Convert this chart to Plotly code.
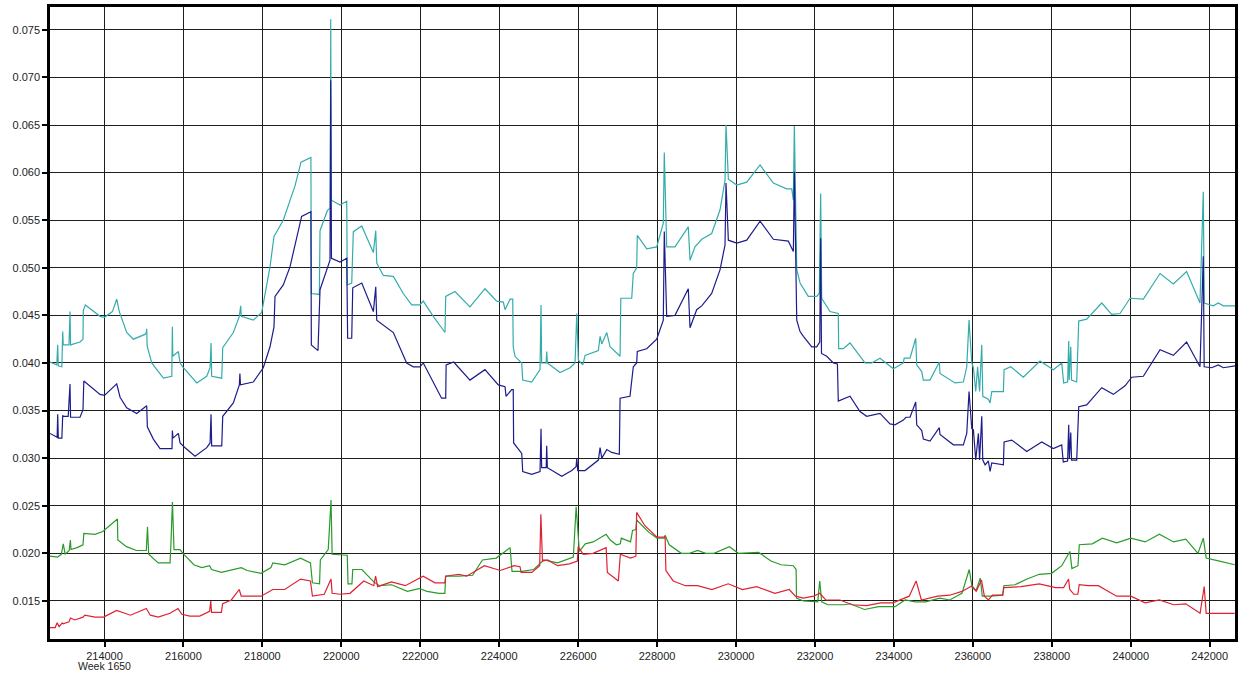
import plotly.graph_objects as go

# Seconds of GPS week 1650 and the four plotted quantities (x, value) per series.
teal_series = [
    (212619, .0401), (212790, .0398), (212814, .0419), (212830, .0397), (212920, .0396),
    (212941, .0433), (212955, .0419), (213100, .0419), (213126, .0454), (213140, .0419),
    (213379, .0422), (213455, .0425), (213463, .0455), (213514, .0461), (213886, .0449),
    (214000, .0448), (214200, .0454), (214309, .0467), (214375, .0454), (214562, .0432),
    (214730, .0425), (215026, .0430), (215060, .0432), (215069, .0436), (215080, .0418),
    (215196, .0400), (215491, .0384), (215660, .0386), (215705, .0386), (215719, .0438),
    (215730, .0407), (215871, .0412), (215914, .0400), (215982, .0396), (216337, .0379),
    (216590, .0386), (216674, .0395), (216699, .0421), (216715, .0386), (216970, .0384),
    (216995, .0416), (217264, .0432), (217416, .0449), (217451, .0460), (217465, .0449),
    (217769, .0445), (217982, .0453), (218193, .0501), (218294, .0533), (218529, .0550),
    (218826, .0586), (218978, .0611), (219229, .0616), (219240, .0473), (219443, .0472),
    (219460, .0539), (219645, .0560), (219720, .0563), (219731, .0761), (219745, .0571),
    (219967, .0566), (220137, .0570), (220150, .0482), (220263, .0484), (220304, .0538),
    (220517, .0544), (220811, .0516), (220872, .0539), (220897, .0505), (221064, .0492),
    (221317, .0491), (221569, .0473), (221782, .0461), (221992, .0461), (222076, .0465),
    (222329, .0449), (222626, .0432), (222644, .0470), (222879, .0475), (223259, .0459),
    (223639, .0478), (223937, .0465), (224104, .0464), (224147, .0456), (224274, .0467),
    (224342, .0467), (224355, .0417), (224400, .0407), (224570, .0400), (224595, .0382),
    (224823, .0380), (225034, .0393), (225059, .0461), (225075, .0400), (225190, .0400),
    (225203, .0412), (225220, .0400), (225541, .0390), (225795, .0395), (225921, .0400),
    (225965, .0452), (226005, .0403), (226117, .0398), (226175, .0408), (226512, .0413),
    (226555, .0428), (226598, .0420), (226725, .0432), (226808, .0417), (227062, .0407),
    (227080, .0468), (227357, .0468), (227397, .0494), (227483, .0500), (227498, .0534),
    (227737, .0520), (227990, .0522), (228157, .0547), (228182, .0621), (228243, .0522),
    (228453, .0522), (228790, .0543), (228834, .0508), (228960, .0522), (229130, .0530),
    (229383, .0536), (229595, .0561), (229721, .0592), (229746, .0650), (229805, .0593),
    (230018, .0587), (230271, .0590), (230608, .0608), (230945, .0589), (231284, .0583),
    (231411, .0583), (231452, .0571), (231477, .0649), (231538, .0498), (231622, .0484),
    (231830, .0470), (232043, .0470), (232109, .0473), (232144, .0578), (232170, .0468),
    (232380, .0454), (232590, .0452), (232600, .0415), (232717, .0415), (232887, .0421),
    (233267, .0400), (233436, .0400), (233647, .0405), (233985, .0394), (234238, .0400),
    (234260, .0405), (234408, .0405), (234552, .0426), (234578, .0398), (234704, .0391),
    (234745, .0382), (234914, .0382), (235150, .0401), (235167, .0389), (235547, .0379),
    (235759, .0380), (235845, .0396), (235903, .0445), (235972, .0400), (236013, .0395),
    (236073, .0370), (236120, .0396), (236170, .0370), (236225, .0419), (236251, .0365),
    (236393, .0362), (236436, .0358), (236479, .0370), (236773, .0370), (236791, .0393),
    (236960, .0396), (237278, .0385), (237701, .0402), (238038, .0393), (238251, .0400),
    (238300, .0379), (238400, .0380), (238428, .0423), (238440, .0382), (238480, .0417),
    (238500, .0382), (238631, .0380), (238682, .0444), (238884, .0446), (239264, .0463),
    (239517, .0451), (239727, .0452), (239982, .0468), (240319, .0467), (240742, .0494),
    (241079, .0483), (241415, .0496), (241754, .0463), (241838, .0580), (241860, .0463),
    (242091, .0460), (242218, .0463), (242345, .0460), (242641, .0460),
]

navy_series = [
    (212619, .0326), (212746, .0323), (212800, .0322), (212814, .0346), (212830, .0321),
    (212920, .0321), (212941, .0345), (212955, .0344), (213080, .0344), (213126, .0378),
    (213140, .0343), (213379, .0343), (213455, .0351), (213476, .0381), (213886, .0367),
    (214000, .0366), (214309, .0378), (214394, .0364), (214562, .0353), (214816, .0347),
    (215069, .0355), (215085, .0333), (215237, .0320), (215406, .0310), (215660, .0310),
    (215710, .0310), (215719, .0329), (215735, .0321), (215871, .0326), (215914, .0316),
    (216041, .0311), (216294, .0302), (216590, .0311), (216674, .0316), (216699, .0346),
    (216715, .0313), (216970, .0313), (216995, .0344), (217264, .0358), (217416, .0377),
    (217430, .0389), (217445, .0377), (217769, .0380), (218023, .0395), (218193, .0417),
    (218294, .0438), (218319, .0470), (218529, .0482), (218699, .0501), (218994, .0554),
    (219229, .0559), (219240, .0419), (219409, .0413), (219460, .0477), (219713, .0508),
    (219731, .0697), (219750, .0510), (219967, .0506), (220137, .0510), (220160, .0426),
    (220263, .0426), (220289, .0479), (220517, .0484), (220811, .0454), (220872, .0480),
    (220897, .0445), (221317, .0432), (221655, .0400), (221824, .0396), (221992, .0396),
    (222076, .0400), (222329, .0379), (222540, .0363), (222644, .0363), (222655, .0398),
    (222846, .0401), (223259, .0382), (223639, .0393), (223977, .0377), (224147, .0375),
    (224172, .0365), (224316, .0372), (224355, .0372), (224365, .0316), (224400, .0314),
    (224570, .0305), (224595, .0286), (224823, .0283), (225034, .0286), (225059, .0331),
    (225075, .0290), (225190, .0290), (225203, .0313), (225220, .0290), (225585, .0281),
    (225838, .0287), (225947, .0291), (225965, .0300), (225990, .0287), (226175, .0287),
    (226512, .0298), (226555, .0311), (226598, .0300), (226725, .0309), (226850, .0306),
    (227043, .0304), (227062, .0363), (227313, .0365), (227397, .0396), (227483, .0400),
    (227498, .0412), (227737, .0415), (227990, .0425), (228157, .0445), (228182, .0538),
    (228243, .0449), (228453, .0450), (228790, .0478), (228834, .0437), (229003, .0456),
    (229130, .0460), (229383, .0473), (229595, .0498), (229721, .0524), (229746, .0589),
    (229805, .0529), (230018, .0526), (230271, .0529), (230608, .0549), (230945, .0530),
    (231325, .0528), (231452, .0517), (231477, .0601), (231538, .0445), (231622, .0433),
    (231706, .0428), (231918, .0417), (232043, .0417), (232120, .0422), (232144, .0531),
    (232165, .0410), (232297, .0407), (232466, .0400), (232568, .0399), (232590, .0360),
    (232887, .0365), (233140, .0349), (233309, .0344), (233647, .0347), (233900, .0336),
    (234027, .0335), (234238, .0340), (234305, .0343), (234408, .0343), (234552, .0359),
    (234578, .0335), (234704, .0329), (234745, .0320), (234914, .0318), (235150, .0332),
    (235167, .0325), (235506, .0314), (235759, .0314), (235845, .0326), (235903, .0370),
    (235972, .0331), (236013, .0330), (236073, .0298), (236140, .0326), (236170, .0298),
    (236225, .0344), (236251, .0298), (236310, .0293), (236393, .0297), (236436, .0286),
    (236479, .0295), (236773, .0293), (236791, .0317), (236985, .0319), (237365, .0307),
    (237744, .0317), (238038, .0310), (238251, .0314), (238290, .0296), (238400, .0297),
    (238428, .0335), (238445, .0300), (238480, .0327), (238500, .0298), (238631, .0298),
    (238682, .0354), (238884, .0356), (239264, .0374), (239559, .0367), (239856, .0376),
    (240025, .0385), (240319, .0386), (240742, .0414), (241079, .0408), (241415, .0422),
    (241754, .0396), (241838, .0512), (241860, .0396), (242051, .0395), (242218, .0398),
    (242345, .0395), (242641, .0397),
]

green_series = [
    (212619, .0197), (212809, .0196), (212905, .0199), (212956, .0210), (213004, .0199),
    (213105, .0203), (213136, .0214), (213150, .0204), (213305, .0206), (213455, .0209),
    (213476, .0221), (213757, .0220), (213957, .0223), (214327, .0236), (214337, .0214),
    (214557, .0207), (214808, .0203), (215059, .0203), (215089, .0228), (215119, .0199),
    (215360, .0190), (215660, .0190), (215680, .0207), (215721, .0254), (215761, .0204),
    (215910, .0204), (216012, .0199), (216263, .0188), (216463, .0185), (216663, .0187),
    (216711, .0183), (216962, .0180), (217464, .0185), (217613, .0182), (217966, .0179),
    (218217, .0185), (218265, .0190), (218566, .0188), (218967, .0195), (219217, .0190),
    (219268, .0169), (219448, .0168), (219468, .0193), (219668, .0204), (219739, .0256),
    (219767, .0199), (220150, .0198), (220170, .0168), (220269, .0168), (220289, .0183),
    (220520, .0183), (220821, .0170), (220970, .0166), (221272, .0167), (221672, .0160),
    (221971, .0163), (222172, .0160), (222473, .0158), (222623, .0158), (222643, .0176),
    (222975, .0176), (223325, .0177), (223575, .0193), (223924, .0195), (224276, .0206),
    (224324, .0181), (224575, .0181), (224877, .0183), (225128, .0193), (225478, .0190),
    (225878, .0196), (225949, .0249), (226030, .0202), (226180, .0210), (226380, .0212),
    (226709, .0220), (226813, .0214), (226968, .0209), (227069, .0210), (227092, .0216),
    (227327, .0212), (227378, .0224), (227462, .0225), (227482, .0235), (227792, .0222),
    (227997, .0216), (228182, .0216), (228203, .0219), (228306, .0209), (228615, .0200),
    (228821, .0200), (229026, .0203), (229234, .0200), (229439, .0200), (229832, .0207),
    (230058, .0200), (230575, .0201), (230884, .0192), (231140, .0188), (231449, .0187),
    (231522, .0183), (231532, .0153), (231707, .0150), (232069, .0149), (232120, .0171),
    (232170, .0149), (232325, .0146), (232738, .0146), (232892, .0147), (233252, .0141),
    (233614, .0144), (234027, .0144), (234283, .0151), (234541, .0149), (234800, .0149),
    (235160, .0153), (235414, .0151), (235723, .0158), (235908, .0183), (235982, .0164),
    (236083, .0161), (236187, .0174), (236238, .0155), (236446, .0155), (236755, .0156),
    (236785, .0166), (237064, .0167), (237373, .0173), (237682, .0178), (237995, .0179),
    (238253, .0187), (238458, .0202), (238509, .0184), (238663, .0187), (238696, .0209),
    (239025, .0210), (239281, .0216), (239643, .0211), (240003, .0216), (240366, .0212),
    (240725, .0220), (241085, .0212), (241394, .0215), (241703, .0200), (241838, .0216),
    (241911, .0195), (242220, .0192), (242633, .0188),
]

red_series = [
    (212619, .0122), (212751, .0122), (212800, .0127), (212850, .0123), (212930, .0127),
    (212951, .0126), (213100, .0128), (213136, .0132), (213250, .0130), (213455, .0133),
    (213500, .0135), (213757, .0133), (213977, .0133), (214306, .0140), (214658, .0135),
    (215059, .0142), (215160, .0135), (215360, .0133), (215660, .0137), (215860, .0142),
    (215961, .0136), (216161, .0134), (216412, .0134), (216663, .0139), (216693, .0150),
    (216711, .0138), (216962, .0138), (216992, .0147), (217213, .0151), (217413, .0162),
    (217464, .0155), (217966, .0155), (218265, .0162), (218566, .0162), (218967, .0173),
    (219217, .0171), (219268, .0155), (219567, .0157), (219739, .0173), (219767, .0158),
    (219967, .0157), (220220, .0158), (220569, .0171), (220821, .0166), (220868, .0176),
    (220919, .0165), (221272, .0170), (221621, .0166), (222072, .0176), (222373, .0169),
    (222623, .0169), (222643, .0176), (222975, .0178), (223175, .0176), (223625, .0187),
    (224025, .0182), (224375, .0187), (224527, .0186), (224554, .0180), (224825, .0180),
    (225025, .0187), (225055, .0241), (225096, .0192), (225225, .0193), (225478, .0187),
    (225779, .0189), (225979, .0192), (226000, .0207), (226126, .0199), (226377, .0200),
    (226709, .0206), (226739, .0180), (227018, .0171), (227069, .0199), (227327, .0195),
    (227462, .0197), (227482, .0243), (227690, .0229), (227997, .0217), (228203, .0217),
    (228223, .0182), (228408, .0171), (228717, .0166), (229026, .0166), (229389, .0162),
    (229802, .0168), (230162, .0162), (230522, .0165), (230986, .0158), (231348, .0162),
    (231503, .0155), (231707, .0153), (231965, .0155), (232120, .0158), (232274, .0151),
    (232634, .0151), (232943, .0146), (233305, .0145), (233665, .0148), (233974, .0148),
    (234387, .0155), (234562, .0171), (234696, .0151), (235109, .0155), (235414, .0156),
    (235723, .0160), (235982, .0166), (236083, .0160), (236218, .0172), (236291, .0155),
    (236393, .0151), (236497, .0156), (236755, .0156), (236785, .0164), (237218, .0165),
    (237682, .0168), (238095, .0164), (238300, .0164), (238424, .0173), (238455, .0162),
    (238559, .0157), (238660, .0157), (238694, .0167), (238919, .0166), (239178, .0166),
    (239642, .0155), (240002, .0155), (240365, .0148), (240725, .0151), (241085, .0146),
    (241394, .0147), (241757, .0137), (241861, .0165), (241911, .0137), (242324, .0137),
    (242633, .0137),
]

series = [
    (teal_series, "#35acac"),
    (navy_series, "#1c1c8c"),
    (green_series, "#2a9a2a"),
    (red_series, "#de2232"),
]

x_ticks = list(range(214000, 242001, 2000))
week_label = "Week 1650"
x_range = [212619, 242641]
y_range = [0.0110, 0.0774]

label_font = dict(family="Liberation Sans, Arial, sans-serif", size=11, color="#222")

fig = go.Figure()
for pts, color in series:
    xs = [p[0] for p in pts]
    ys = [p[1] for p in pts]
    fig.add_trace(go.Scatter(
        x=xs, y=ys, mode="lines",
        line=dict(color=color, width=1.2),
        hoverinfo="skip", showlegend=False,
    ))

axis_common = dict(
    showline=True, linecolor="#000", linewidth=2.5, mirror=True,
    showgrid=True, gridcolor="#1e1e1e", gridwidth=1.4,
    zeroline=False, ticks="outside", ticklen=5, tickwidth=1.5, tickcolor="#000",
    tickfont=label_font, automargin=False,
)

fig.update_xaxes(range=x_range, tickvals=x_ticks, ticktext=[str(v) for v in x_ticks], **axis_common)
fig.update_yaxes(range=y_range, tick0=0, dtick=0.005, tickformat=".3f", **axis_common)

# Week number written under the first time tick
fig.add_annotation(
    x=x_ticks[0], xref="x", y=0, yref="paper",
    yanchor="top", yshift=-19, showarrow=False,
    text=week_label, font=dict(family=label_font["family"], size=10.5, color="#222"),
)

fig.update_layout(
    width=1238, height=674,
    margin=dict(l=50, r=3, t=7, b=35),
    paper_bgcolor="#fff", plot_bgcolor="#fff",
    showlegend=False,
)

fig.write_html("out.html", config={"displayModeBar": False})
